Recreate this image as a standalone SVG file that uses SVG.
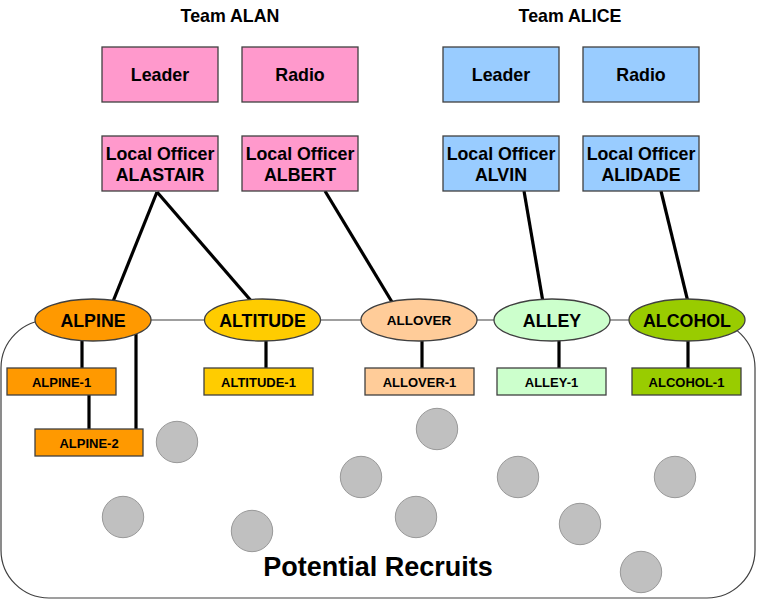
<svg xmlns="http://www.w3.org/2000/svg" width="757" height="600" viewBox="0 0 757 600">
<style>
text{font-family:"Liberation Sans",Arial,sans-serif;font-weight:bold;fill:#000;text-anchor:middle}
.box{stroke:#404040;stroke-width:1.3}
.pink{fill:#ff99cc}.blue{fill:#99ccff}
.t18{font-size:17.8px}.t13{font-size:13px}
.conn{stroke:#000;stroke-width:3.2;fill:none}
.rc{fill:#c0c0c0;stroke:#999;stroke-width:1}
</style>
<rect x="1" y="320" width="754" height="278" rx="48" ry="48" fill="#fff" stroke="#404040" stroke-width="1.2"/>
<g id="recruits">
<circle class="rc" cx="177" cy="442" r="20.7"/>
<circle class="rc" cx="437" cy="429" r="20.7"/>
<circle class="rc" cx="361" cy="477" r="20.7"/>
<circle class="rc" cx="518" cy="477" r="20.7"/>
<circle class="rc" cx="675" cy="477" r="20.7"/>
<circle class="rc" cx="123" cy="517" r="20.7"/>
<circle class="rc" cx="252" cy="531" r="20.7"/>
<circle class="rc" cx="416" cy="517" r="20.7"/>
<circle class="rc" cx="580" cy="524" r="20.7"/>
<circle class="rc" cx="641" cy="572" r="20.7"/>
</g>
<text x="378" y="576" style="font-size:27px">Potential Recruits</text>
<g id="connectors">
<line class="conn" x1="157" y1="192" x2="112" y2="304"/>
<line class="conn" x1="157" y1="192" x2="253" y2="303"/>
<line class="conn" x1="325" y1="191" x2="392" y2="302"/>
<line class="conn" x1="524" y1="191" x2="543" y2="302"/>
<line class="conn" x1="661" y1="191" x2="688" y2="302"/>
<line class="conn" x1="82" y1="338" x2="82" y2="368"/>
<line class="conn" x1="89" y1="395" x2="89" y2="429"/>
<line class="conn" x1="136" y1="334" x2="136" y2="429"/>
<line class="conn" x1="266" y1="340" x2="266" y2="368"/>
<line class="conn" x1="422" y1="340" x2="422" y2="368"/>
<line class="conn" x1="559" y1="340" x2="559" y2="368"/>
<line class="conn" x1="688" y1="340" x2="688" y2="368"/>
</g>
<text class="t18" x="230" y="22">Team ALAN</text>
<text class="t18" x="570" y="22">Team ALICE</text>
<g id="alan-leader"><rect class="box pink" x="102" y="47" width="116" height="55"/><text class="t18" x="160" y="81">Leader</text></g>
<g id="alan-radio"><rect class="box pink" x="242" y="47" width="116" height="55"/><text class="t18" x="300" y="81">Radio</text></g>
<g id="alastair"><rect class="box pink" x="102" y="136" width="116" height="55"/><text class="t18" x="160" y="160">Local Officer</text><text class="t18" x="160" y="181">ALASTAIR</text></g>
<g id="albert"><rect class="box pink" x="242" y="136" width="116" height="55"/><text class="t18" x="300" y="160">Local Officer</text><text class="t18" x="300" y="181">ALBERT</text></g>
<g id="alice-leader"><rect class="box blue" x="443" y="47" width="116" height="55"/><text class="t18" x="501" y="81">Leader</text></g>
<g id="alice-radio"><rect class="box blue" x="583" y="47" width="116" height="55"/><text class="t18" x="641" y="81">Radio</text></g>
<g id="alvin"><rect class="box blue" x="443" y="136" width="116" height="55"/><text class="t18" x="501" y="160">Local Officer</text><text class="t18" x="501" y="181">ALVIN</text></g>
<g id="alidade"><rect class="box blue" x="583" y="136" width="116" height="55"/><text class="t18" x="641" y="160">Local Officer</text><text class="t18" x="641" y="181">ALIDADE</text></g>
<g id="alpine"><ellipse class="box" cx="93" cy="320" rx="58" ry="21" fill="#ff9900"/><text class="t18" x="93" y="327">ALPINE</text></g>
<g id="altitude"><ellipse class="box" cx="262.5" cy="320" rx="58" ry="21" fill="#ffcc00"/><text class="t18" x="262.5" y="327">ALTITUDE</text></g>
<g id="allover"><ellipse class="box" cx="419" cy="320" rx="58" ry="21" fill="#ffcc99"/><text x="419" y="325" style="font-size:13.5px">ALLOVER</text></g>
<g id="alley"><ellipse class="box" cx="552" cy="320" rx="58" ry="21" fill="#ccffcc"/><text class="t18" x="552" y="327">ALLEY</text></g>
<g id="alcohol"><ellipse class="box" cx="687" cy="320" rx="58" ry="21" fill="#99cc00"/><text class="t18" x="687" y="327">ALCOHOL</text></g>
<g id="alpine-1"><rect class="box" x="7" y="368" width="109" height="27" fill="#ff9900"/><text class="t13" x="61.5" y="387">ALPINE-1</text></g>
<g id="alpine-2"><rect class="box" x="35" y="429" width="108" height="27" fill="#ff9900"/><text class="t13" x="89" y="448">ALPINE-2</text></g>
<g id="altitude-1"><rect class="box" x="204" y="368" width="109" height="27" fill="#ffcc00"/><text class="t13" x="258.5" y="387">ALTITUDE-1</text></g>
<g id="allover-1"><rect class="box" x="365" y="368" width="109" height="27" fill="#ffcc99"/><text class="t13" x="419.5" y="387">ALLOVER-1</text></g>
<g id="alley-1"><rect class="box" x="497" y="368" width="109" height="27" fill="#ccffcc"/><text class="t13" x="551.5" y="387">ALLEY-1</text></g>
<g id="alcohol-1"><rect class="box" x="632" y="368" width="109" height="27" fill="#99cc00"/><text class="t13" x="686.5" y="387">ALCOHOL-1</text></g>
</svg>
